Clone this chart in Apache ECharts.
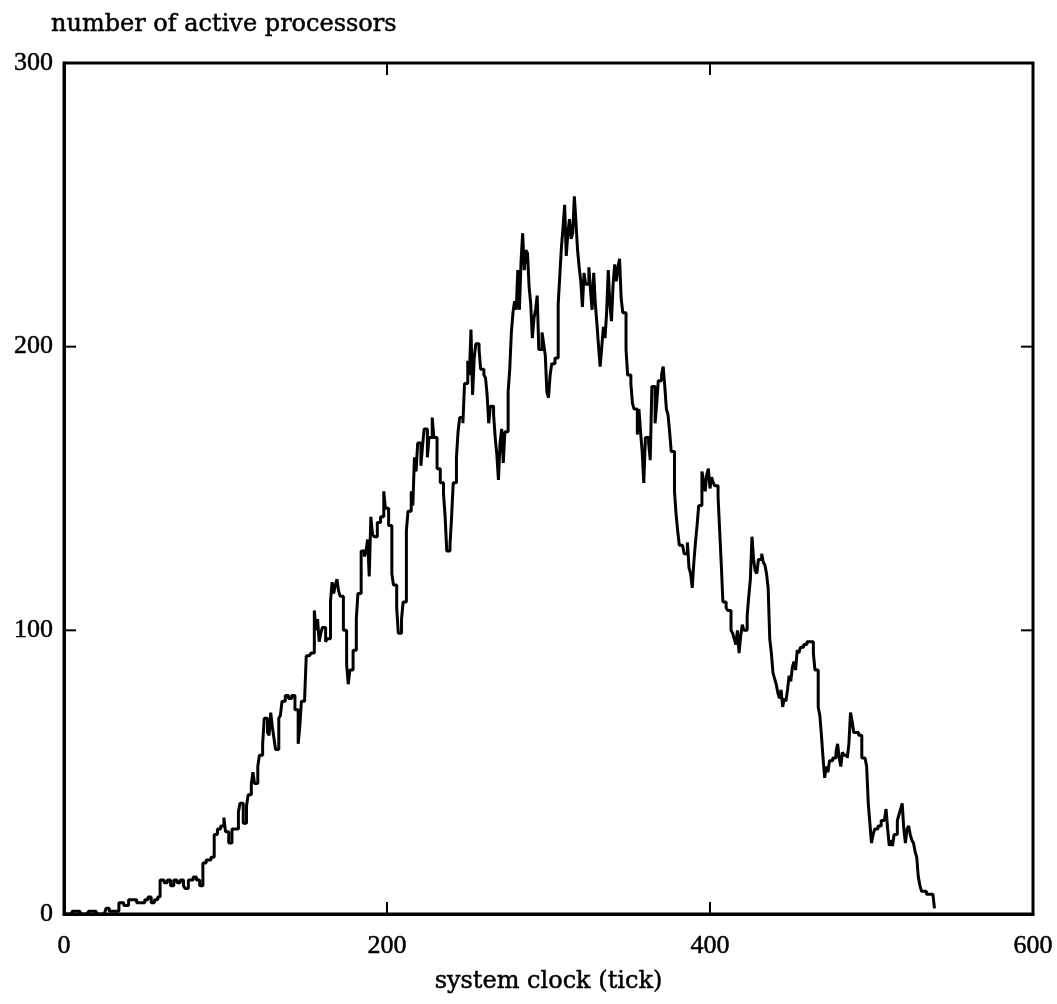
<!DOCTYPE html>
<html>
<head>
<meta charset="utf-8">
<title>number of active processors</title>
<script src="https://cdn.jsdelivr.net/npm/echarts@6/dist/echarts.min.js"></script>
<style>
  html, body { margin: 0; padding: 0; background: #fff; }
  #chart { width: 1057px; height: 1004px; }
</style>
</head>
<body>
<div id="chart"></div>
<script>
// Active processor count sampled along the system clock (ticks).
const clockTicks = [
  0,5,10,15,20,25,26,28,31,34,37,40,42,45,48,50,52,54,56,58,
  59.5,62,64,66,68,70,72,74,75,77,80,82,84,86,88,91,93,95,97,99,
  100,102,104,106,108,109,111,113,114,116,117,118,120,121,123,124,126,127,128,129,
  130,131,133,134,135,137,139,141,143,145,146,147,149,150,152,153,155,156,157,158,
  159,160,162,163,165,166,167,168,169,170,171,173,175,176,177,179,181,182,184,186,
  187,188,189,190,191,192,194,196,198,199,201,203,204,206,207,209,210,212,213,215,
  216,217,218,219,221,222,223,225,226,228,229,231,233,235,236,237,239,240,241,243,
  244,245,247,248,250,251,252,253,254,255,257,258,260,261,262,263,264,266,267,268,
  269,270,271,272,273,275,276,277,278,279,280,281,282,283,284,285,286,287,288,289,
  290,291,292,293,294,296,297,298,299,300,301,302,304,306,307,308,309,310,311,312,
  313,314,315,316,317,318,319,320,321,322,323,325,326,327,328,329,330,331,332,333,
  334,335,336,337,338,339,340,341,342,343,344,345,346,348,349,351,352,353,355,356,
  357,358,359,360,362,363,364,365,366,367,368,369,370,371,372,373,374,375,376,378,
  379,380,381,383,384,386,387,388,389,390,391,392,393,395,396,397,398,399,400,401,
  402,403,405,406,407,408,410,411,413,414,415,416,417,418,419,420,421,423,424,425,
  426,427,428,429,430,432,433,434,435,436,437,438,439,440,441,442,443,444,445,446,
  447,448,449,450,451,452,453,454,455,456,458,460,462,463,464,465,467,468,469,470,
  471,472,473,474,476,477,478,479,480,481,482,483,485,486,487,488,489,490,492,494,
  496,497,498,499,500,501,502,504,505,506,508,509,510,511,512,513,514,516,517,518,
  519,520,521,522,523,524,525,526,527,528,529,530,531,534,538,539
];
const activeProcessors = [
  0,1,0,1,0,0,2,1,1,4,3,5,5,4,4,5,6,4,5,6,
  12,11,12,10,12,11,12,10,9,12,13,12,10,18,19,20,28,30,31,34,
  29,25,30,30,36,39,32,38,42,46,50,46,52,56,60,69,64,63,71,66,
  62,58,69,70,75,77,76,77,72,60,66,75,76,91,91,92,107,100,104,96,
  99,101,96,97,110,117,113,116,118,114,112,100,88,81,86,93,104,113,128,126,
  128,132,119,140,134,133,138,140,149,143,137,120,116,108,99,104,110,135,142,149,
  144,161,156,166,158,165,171,161,168,175,168,157,152,148,140,128,130,140,152,161,
  170,175,173,187,195,190,206,183,196,201,199,192,190,189,183,173,179,176,168,162,
  153,166,171,159,170,184,192,205,212,216,213,227,213,230,240,227,234,233,221,215,
  203,210,213,218,199,205,201,197,184,182,190,194,196,215,225,235,242,250,232,240,
  245,238,240,253,244,234,228,223,214,226,222,228,220,213,226,215,208,200,193,200,
  207,203,212,227,215,209,222,229,223,228,231,217,212,199,190,187,180,178,169,178,
  170,163,152,168,166,160,186,186,173,180,188,188,190,193,186,178,176,170,163,149,
  141,135,130,130,127,131,122,120,115,124,131,137,144,156,153,149,155,157,150,154,
  152,151,147,135,123,110,108,107,100,99,97,95,100,92,98,102,100,105,112,118,
  133,125,121,120,125,127,124,123,120,115,97,92,85,83,81,78,76,79,73,76,
  75,79,84,82,87,89,86,93,92,94,95,96,96,96,92,86,73,70,63,55,
  48,52,50,54,55,55,57,60,55,52,57,56,55,60,71,68,64,64,63,55,
  55,52,39,32,25,28,30,31,31,33,33,37,30,24,26,24,28,33,35,37,
  39,30,25,30,31,28,26,25,22,20,13,10,8,7,7,2
];
const xTickValues = [0, 200, 400, 600];
const yTickValues = [0, 100, 200, 300];

const points = clockTicks.map((t, i) => [t, activeProcessors[i]]);

const serif = '"DejaVu Serif", "Liberation Serif", serif';
const digitSerif = '"Liberation Serif", "DejaVu Serif", serif';
const TICK_LEN = 12;

const chart = echarts.init(document.getElementById('chart'), null, { renderer: 'canvas' });

// interior tick marks only (no marks at the frame corners)
const innerValues = list => list.slice(1, -1);

// slightly heavier strokes on the text
const inkText = { color: '#000', textBorderColor: '#000', textBorderWidth: 0.5 };

chart.setOption({
  animation: false,
  backgroundColor: '#ffffff',
  title: {
    text: 'number of active processors',
    left: 46, top: 8,
    textStyle: Object.assign({ fontFamily: serif, fontSize: 24, fontWeight: 'normal' }, inkText)
  },
  grid: {
    left: 64, right: 24, top: 63, bottom: 90,
    show: true, borderColor: '#000', borderWidth: 3, backgroundColor: 'transparent'
  },
  xAxis: {
    type: 'value', min: 0, max: 600, interval: 200,
    name: 'system clock (tick)', nameLocation: 'middle', nameGap: 56,
    nameTextStyle: Object.assign({ fontFamily: serif, fontSize: 24 }, inkText),
    axisLine: { show: true, lineStyle: { color: '#000', width: 3 } },
    axisTick: { show: false },
    axisLabel: Object.assign({
      fontFamily: digitSerif, fontSize: 26, margin: 19,
      customValues: xTickValues
    }, inkText),
    splitLine: { show: false }
  },
  yAxis: {
    type: 'value', min: 0, max: 300, interval: 100,
    axisLine: { show: true, lineStyle: { color: '#000', width: 3 } },
    axisTick: { show: false },
    axisLabel: Object.assign({
      fontFamily: digitSerif, fontSize: 26, margin: 11,
      customValues: yTickValues
    }, inkText),
    splitLine: { show: false }
  },
  series: [{
    type: 'line',
    data: points,
    step: 'end',
    showSymbol: false,
    symbol: 'none',
    lineStyle: { color: '#000', width: 3 },
    z: 3
  }]
});

// Inward tick marks on all four edges of the frame,
// placed through the axes' own scales.
const xPix = v => chart.convertToPixel({ xAxisIndex: 0 }, v);
const yPix = v => chart.convertToPixel({ yAxisIndex: 0 }, v);
const topY = yPix(300), bottomY = yPix(0);
const leftX = xPix(0), rightX = xPix(600);
const tickStyle = { stroke: '#000', lineWidth: 2 };
const frameTicks = [];
innerValues(xTickValues).forEach(v => {
  const x = xPix(v);
  frameTicks.push({ type: 'line', shape: { x1: x, y1: topY, x2: x, y2: topY + TICK_LEN }, style: tickStyle, z: 10 });
  frameTicks.push({ type: 'line', shape: { x1: x, y1: bottomY, x2: x, y2: bottomY - TICK_LEN }, style: tickStyle, z: 10 });
});
innerValues(yTickValues).forEach(v => {
  const y = yPix(v);
  frameTicks.push({ type: 'line', shape: { x1: rightX - TICK_LEN, y1: y, x2: rightX, y2: y }, style: tickStyle, z: 10 });
  frameTicks.push({ type: 'line', shape: { x1: leftX, y1: y, x2: leftX + TICK_LEN, y2: y }, style: tickStyle, z: 10 });
});
chart.setOption({ graphic: frameTicks });
</script>
</body>
</html>
